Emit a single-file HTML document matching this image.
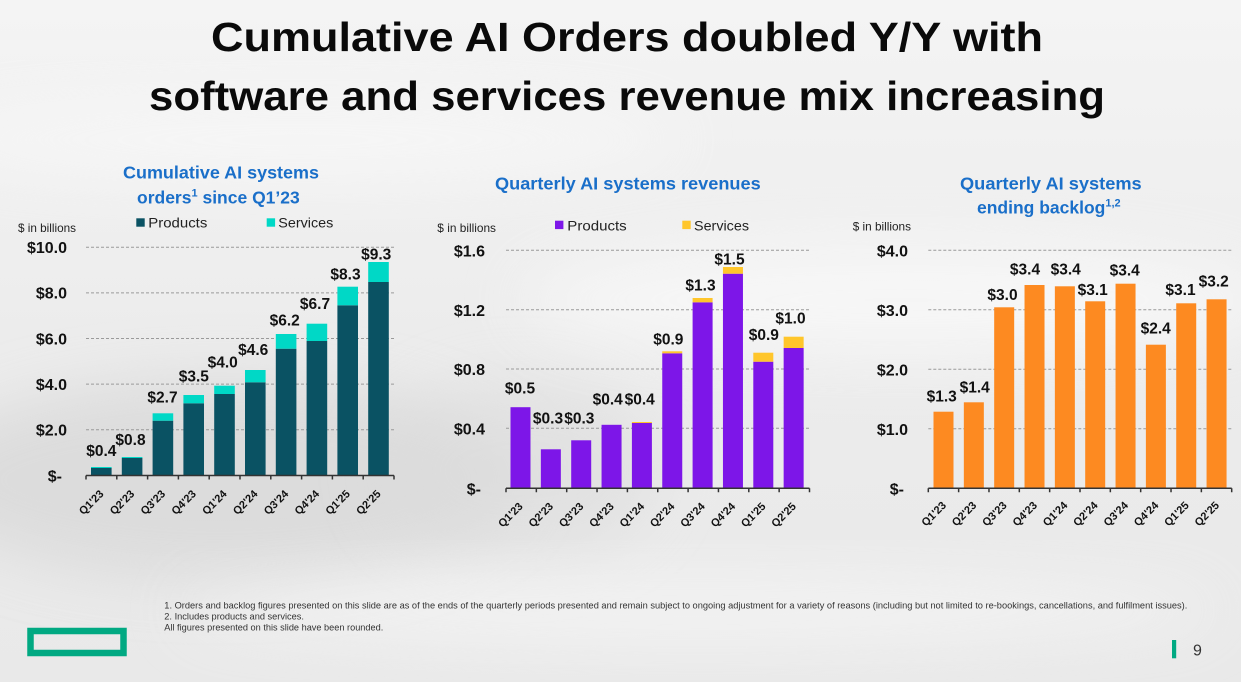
<!DOCTYPE html>
<html><head><meta charset="utf-8"><style>
html,body{margin:0;padding:0;width:1241px;height:682px;overflow:hidden;background:#eee}
svg{display:block}
text{font-family:"Liberation Sans",Arial,sans-serif}
.t{font-weight:bold;fill:#0a0a0a}
.ct{font-weight:bold;fill:#1a6fc9;font-size:17.5px}
.v{font-weight:bold;font-size:15.5px;fill:#111;text-anchor:middle}
.y{font-weight:bold;font-size:16px;fill:#111;text-anchor:end}
.x{font-weight:bold;font-size:11px;fill:#111;text-anchor:end}
.u{font-size:12px;fill:#222}
.lg{font-size:14px;fill:#222}
.fn{font-size:9px;fill:#333}
.g{stroke:#9a9a9a;stroke-width:1;stroke-dasharray:3 2;fill:none}
.ax{stroke:#333;stroke-width:1.5;fill:none}
</style></head><body>
<svg width="1241" height="682" viewBox="0 0 1241 682" xmlns="http://www.w3.org/2000/svg">
<defs>
<linearGradient id="bg" x1="0" y1="0" x2="0" y2="1">
<stop offset="0" stop-color="#f4f4f4"/>
<stop offset="0.5" stop-color="#ececec"/>
<stop offset="1" stop-color="#e9e9e9"/>
</linearGradient>
<filter id="bl" x="-50%" y="-50%" width="200%" height="200%"><feGaussianBlur stdDeviation="30"/></filter>
</defs>
<rect width="1241" height="682" fill="url(#bg)"/>
<ellipse cx="220" cy="480" rx="300" ry="100" fill="#d6d6d6" opacity="0.7" filter="url(#bl)"/>
<ellipse cx="520" cy="470" rx="140" ry="90" fill="#dcdcdc" opacity="0.6" filter="url(#bl)"/>
<ellipse cx="900" cy="300" rx="380" ry="60" fill="#fafafa" opacity="0.7" filter="url(#bl)"/>
<ellipse cx="700" cy="610" rx="520" ry="35" fill="#f6f6f6" opacity="0.7" filter="url(#bl)"/>
<ellipse cx="300" cy="140" rx="380" ry="40" fill="#fafafa" opacity="0.6" filter="url(#bl)"/>

<!-- Main title -->
<text class="t" x="211" y="51" font-size="41" textLength="832" lengthAdjust="spacingAndGlyphs">Cumulative AI Orders doubled Y/Y with</text>
<text class="t" x="149" y="110" font-size="41" textLength="956" lengthAdjust="spacingAndGlyphs">software and services revenue mix increasing</text>

<!-- ============ Chart 1 ============ -->
<text class="ct" x="123" y="178.3" textLength="196" lengthAdjust="spacingAndGlyphs">Cumulative AI systems</text>
<text class="ct" x="137" y="203.3">orders<tspan font-size="11" dy="-7">1</tspan><tspan dy="7"> since Q1’23</tspan></text>
<text class="u" x="18" y="232" textLength="58" lengthAdjust="spacingAndGlyphs">$ in billions</text>
<rect x="136.3" y="218.3" width="8.4" height="8.4" fill="#0a5263"/>
<text class="lg" x="148.3" y="227.7" textLength="59" lengthAdjust="spacingAndGlyphs">Products</text>
<rect x="266.7" y="218.3" width="8.4" height="8.4" fill="#00d8c6"/>
<text class="lg" x="278.3" y="227.7" textLength="55" lengthAdjust="spacingAndGlyphs">Services</text>

<line class="g" x1="86" y1="247.3" x2="395" y2="247.3"/>
<line class="g" x1="86" y1="292.9" x2="395" y2="292.9"/>
<line class="g" x1="86" y1="338.5" x2="395" y2="338.5"/>
<line class="g" x1="86" y1="384.1" x2="395" y2="384.1"/>
<line class="g" x1="86" y1="429.7" x2="395" y2="429.7"/>
<text class="y" x="67" y="253">$10.0</text>
<text class="y" x="67" y="298.7">$8.0</text>
<text class="y" x="67" y="344.3">$6.0</text>
<text class="y" x="67" y="390">$4.0</text>
<text class="y" x="67" y="435.5">$2.0</text>
<text class="y" x="62" y="481.5">$-</text>

<g fill="#0a5263">
<rect x="91" y="468" width="20.6" height="7.5"/>
<rect x="121.8" y="458" width="20.6" height="17.5"/>
<rect x="152.6" y="420.7" width="20.6" height="54.8"/>
<rect x="183.4" y="403.3" width="20.6" height="72.2"/>
<rect x="214.2" y="394" width="20.6" height="81.5"/>
<rect x="245" y="382.3" width="20.6" height="93.2"/>
<rect x="275.8" y="348.7" width="20.6" height="126.8"/>
<rect x="306.6" y="341" width="20.6" height="134.5"/>
<rect x="337.4" y="305.3" width="20.6" height="170.2"/>
<rect x="368.2" y="282" width="20.6" height="193.5"/>
</g>
<g fill="#00d8c6">
<rect x="91" y="467" width="20.6" height="1"/>
<rect x="121.8" y="457" width="20.6" height="1"/>
<rect x="152.6" y="413.3" width="20.6" height="7.4"/>
<rect x="183.4" y="395" width="20.6" height="8.3"/>
<rect x="214.2" y="385.7" width="20.6" height="8.3"/>
<rect x="245" y="370" width="20.6" height="12.3"/>
<rect x="275.8" y="334" width="20.6" height="14.7"/>
<rect x="306.6" y="323.7" width="20.6" height="17.3"/>
<rect x="337.4" y="286.7" width="20.6" height="18.6"/>
<rect x="368.2" y="262" width="20.6" height="20"/>
</g>
<path class="ax" d="M86 475.5H394M86 475.5v4M116.8 475.5v4M147.6 475.5v4M178.4 475.5v4M209.2 475.5v4M240 475.5v4M270.8 475.5v4M301.6 475.5v4M332.4 475.5v4M363.2 475.5v4M394 475.5v4"/>
<text class="v" x="101.3" y="456">$0.4</text>
<text class="v" x="130.5" y="445">$0.8</text>
<text class="v" x="162.5" y="402.7">$2.7</text>
<text class="v" x="193.8" y="381.7">$3.5</text>
<text class="v" x="222.7" y="367.3">$4.0</text>
<text class="v" x="253.2" y="355">$4.6</text>
<text class="v" x="284.7" y="325.7">$6.2</text>
<text class="v" x="315" y="309">$6.7</text>
<text class="v" x="345.5" y="279.3">$8.3</text>
<text class="v" x="376.2" y="259.3">$9.3</text>
<g>
<text class="x" transform="translate(104.3,494.5) rotate(-45)">Q1'23</text>
<text class="x" transform="translate(135.1,494.5) rotate(-45)">Q2'23</text>
<text class="x" transform="translate(165.9,494.5) rotate(-45)">Q3'23</text>
<text class="x" transform="translate(196.7,494.5) rotate(-45)">Q4'23</text>
<text class="x" transform="translate(227.5,494.5) rotate(-45)">Q1'24</text>
<text class="x" transform="translate(258.3,494.5) rotate(-45)">Q2'24</text>
<text class="x" transform="translate(289.1,494.5) rotate(-45)">Q3'24</text>
<text class="x" transform="translate(319.9,494.5) rotate(-45)">Q4'24</text>
<text class="x" transform="translate(350.7,494.5) rotate(-45)">Q1'25</text>
<text class="x" transform="translate(381.5,494.5) rotate(-45)">Q2'25</text>
</g>

<!-- ============ Chart 2 ============ -->
<text class="ct" x="495" y="189.3" textLength="265.7" lengthAdjust="spacingAndGlyphs">Quarterly AI systems revenues</text>
<text class="u" x="437.3" y="232" textLength="58.7" lengthAdjust="spacingAndGlyphs">$ in billions</text>
<rect x="555" y="220.7" width="8.4" height="8.4" fill="#7d16e8"/>
<text class="lg" x="567.3" y="230.3" textLength="59.4" lengthAdjust="spacingAndGlyphs">Products</text>
<rect x="682.3" y="220.7" width="8.4" height="8.4" fill="#ffc62b"/>
<text class="lg" x="694" y="230.3" textLength="55" lengthAdjust="spacingAndGlyphs">Services</text>

<line class="g" x1="506" y1="250.3" x2="810" y2="250.3"/>
<line class="g" x1="506" y1="309.7" x2="810" y2="309.7"/>
<line class="g" x1="506" y1="369" x2="810" y2="369"/>
<line class="g" x1="506" y1="428.3" x2="810" y2="428.3"/>
<text class="y" x="485" y="256.5">$1.6</text>
<text class="y" x="485" y="315.9">$1.2</text>
<text class="y" x="485" y="375.2">$0.8</text>
<text class="y" x="485" y="434.5">$0.4</text>
<text class="y" x="481" y="494.5">$-</text>

<g fill="#7d16e8">
<rect x="510.5" y="407.2" width="20" height="81.1"/>
<rect x="540.85" y="449.3" width="20" height="39"/>
<rect x="571.2" y="440.3" width="20" height="48"/>
<rect x="601.55" y="424.8" width="20" height="63.5"/>
<rect x="631.9" y="423" width="20" height="65.3"/>
<rect x="662.25" y="353.3" width="20" height="135"/>
<rect x="692.6" y="302.3" width="20" height="186"/>
<rect x="722.95" y="273.7" width="20" height="214.6"/>
<rect x="753.3" y="361.7" width="20" height="126.6"/>
<rect x="783.65" y="348" width="20" height="140.3"/>
</g>
<g fill="#ffc62b">
<rect x="631.9" y="422" width="20" height="1"/>
<rect x="662.25" y="351.3" width="20" height="2"/>
<rect x="692.6" y="298" width="20" height="4.3"/>
<rect x="722.95" y="267" width="20" height="6.7"/>
<rect x="753.3" y="352.7" width="20" height="9"/>
<rect x="783.65" y="336.7" width="20" height="11.3"/>
</g>
<path class="ax" d="M506 488.3H809.5M506 488.3v4M536.35 488.3v4M566.7 488.3v4M597.05 488.3v4M627.4 488.3v4M657.75 488.3v4M688.1 488.3v4M718.45 488.3v4M748.8 488.3v4M779.15 488.3v4M809.5 488.3v4"/>
<text class="v" x="520" y="393.3">$0.5</text>
<text class="v" x="548" y="423.3">$0.3</text>
<text class="v" x="579.3" y="423.3">$0.3</text>
<text class="v" x="607.7" y="404.3">$0.4</text>
<text class="v" x="639.7" y="404.3">$0.4</text>
<text class="v" x="668.3" y="344.3">$0.9</text>
<text class="v" x="700.5" y="290.7">$1.3</text>
<text class="v" x="729.5" y="264.3">$1.5</text>
<text class="v" x="763.8" y="340">$0.9</text>
<text class="v" x="790.5" y="323.3">$1.0</text>
<g>
<text class="x" transform="translate(523.5,507) rotate(-45)">Q1'23</text>
<text class="x" transform="translate(553.85,507) rotate(-45)">Q2'23</text>
<text class="x" transform="translate(584.2,507) rotate(-45)">Q3'23</text>
<text class="x" transform="translate(614.55,507) rotate(-45)">Q4'23</text>
<text class="x" transform="translate(644.9,507) rotate(-45)">Q1'24</text>
<text class="x" transform="translate(675.25,507) rotate(-45)">Q2'24</text>
<text class="x" transform="translate(705.6,507) rotate(-45)">Q3'24</text>
<text class="x" transform="translate(735.95,507) rotate(-45)">Q4'24</text>
<text class="x" transform="translate(766.3,507) rotate(-45)">Q1'25</text>
<text class="x" transform="translate(796.65,507) rotate(-45)">Q2'25</text>
</g>

<!-- ============ Chart 3 ============ -->
<text class="ct" x="960" y="189.3" textLength="181.7" lengthAdjust="spacingAndGlyphs">Quarterly AI systems</text>
<text class="ct" x="977" y="213.3">ending backlog<tspan font-size="11" dy="-7">1,2</tspan></text>
<text class="u" x="852.7" y="230.5" textLength="58.3" lengthAdjust="spacingAndGlyphs">$ in billions</text>

<line class="g" x1="928.3" y1="250.3" x2="1231.7" y2="250.3"/>
<line class="g" x1="928.3" y1="309.8" x2="1231.7" y2="309.8"/>
<line class="g" x1="928.3" y1="369.3" x2="1231.7" y2="369.3"/>
<line class="g" x1="928.3" y1="428.8" x2="1231.7" y2="428.8"/>
<text class="y" x="908" y="256.5">$4.0</text>
<text class="y" x="908" y="316">$3.0</text>
<text class="y" x="908" y="375.5">$2.0</text>
<text class="y" x="908" y="435">$1.0</text>
<text class="y" x="904" y="494.5">$-</text>

<g fill="#fd8a21">
<rect x="933.5" y="411.7" width="20" height="76.6"/>
<rect x="963.84" y="402.3" width="20" height="86"/>
<rect x="994.18" y="307.3" width="20" height="181"/>
<rect x="1024.52" y="285" width="20" height="203.3"/>
<rect x="1054.86" y="286.3" width="20" height="202"/>
<rect x="1085.2" y="301.3" width="20" height="187"/>
<rect x="1115.54" y="283.7" width="20" height="204.6"/>
<rect x="1145.88" y="344.7" width="20" height="143.6"/>
<rect x="1176.22" y="303.3" width="20" height="185"/>
<rect x="1206.56" y="299.3" width="20" height="189"/>
</g>
<path class="ax" d="M928.3 488.3H1231.7M928.3 488.3v4M958.64 488.3v4M988.98 488.3v4M1019.32 488.3v4M1049.66 488.3v4M1080 488.3v4M1110.34 488.3v4M1140.68 488.3v4M1171.02 488.3v4M1201.36 488.3v4M1231.7 488.3v4"/>
<text class="v" x="941.7" y="401.7">$1.3</text>
<text class="v" x="974.7" y="392.3">$1.4</text>
<text class="v" x="1002.5" y="300">$3.0</text>
<text class="v" x="1025" y="274.3">$3.4</text>
<text class="v" x="1065.7" y="274.3">$3.4</text>
<text class="v" x="1092.7" y="295">$3.1</text>
<text class="v" x="1124.7" y="275.7">$3.4</text>
<text class="v" x="1155.7" y="333.3">$2.4</text>
<text class="v" x="1180.5" y="295">$3.1</text>
<text class="v" x="1213.7" y="286.7">$3.2</text>
<g>
<text class="x" transform="translate(946.8,506) rotate(-45)">Q1'23</text>
<text class="x" transform="translate(977.14,506) rotate(-45)">Q2'23</text>
<text class="x" transform="translate(1007.48,506) rotate(-45)">Q3'23</text>
<text class="x" transform="translate(1037.82,506) rotate(-45)">Q4'23</text>
<text class="x" transform="translate(1068.16,506) rotate(-45)">Q1'24</text>
<text class="x" transform="translate(1098.5,506) rotate(-45)">Q2'24</text>
<text class="x" transform="translate(1128.84,506) rotate(-45)">Q3'24</text>
<text class="x" transform="translate(1159.18,506) rotate(-45)">Q4'24</text>
<text class="x" transform="translate(1189.52,506) rotate(-45)">Q1'25</text>
<text class="x" transform="translate(1219.86,506) rotate(-45)">Q2'25</text>
</g>

<!-- Footnotes -->
<text class="fn" x="164.3" y="608.3" textLength="1023" lengthAdjust="spacingAndGlyphs">1.  Orders and backlog figures presented on this slide are as of the ends of the quarterly periods presented and remain subject to ongoing adjustment for a variety of reasons (including but not limited to re-bookings, cancellations, and fulfilment issues).</text>
<text class="fn" x="164.3" y="619.3" textLength="139.7" lengthAdjust="spacingAndGlyphs">2.  Includes products and services.</text>
<text class="fn" x="164.3" y="630.7" textLength="219" lengthAdjust="spacingAndGlyphs">All figures presented on this slide have been rounded.</text>

<!-- Logo -->
<rect x="30.5" y="631" width="93" height="22" fill="none" stroke="#01a982" stroke-width="6.5"/>

<!-- Page number -->
<rect x="1172" y="640" width="4.2" height="18.3" fill="#01a982"/>
<text x="1193" y="655.7" font-size="16" fill="#333">9</text>
</svg>
</body></html>
